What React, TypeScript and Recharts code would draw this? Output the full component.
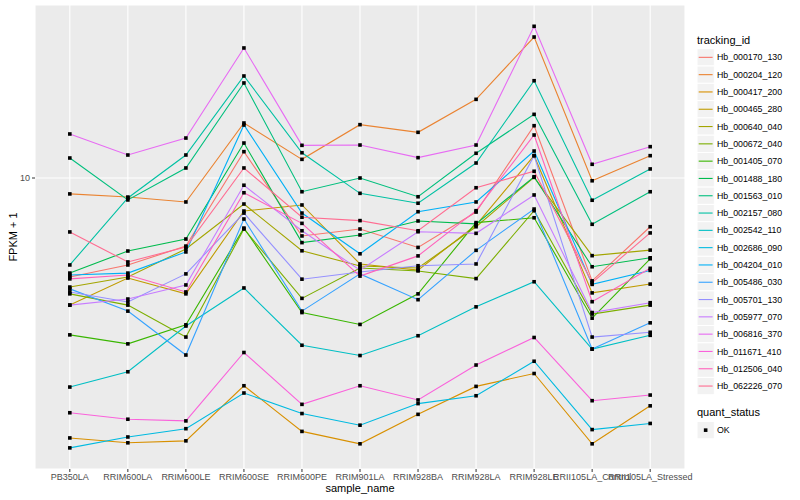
import { CartesianGrid, Line, LineChart, XAxis, YAxis } from "recharts";

const categories = [
  "PB350LA",
  "RRIM600LA",
  "RRIM600LE",
  "RRIM600SE",
  "RRIM600PE",
  "RRIM901LA",
  "RRIM928BA",
  "RRIM928LA",
  "RRIM928LE",
  "RRII105LA_Control",
  "RRII105LA_Stressed",
];

const trackingIds = [
  "Hb_000170_130",
  "Hb_000204_120",
  "Hb_000417_200",
  "Hb_000465_280",
  "Hb_000640_040",
  "Hb_000672_040",
  "Hb_001405_070",
  "Hb_001488_180",
  "Hb_001563_010",
  "Hb_002157_080",
  "Hb_002542_110",
  "Hb_002686_090",
  "Hb_004204_010",
  "Hb_005486_030",
  "Hb_005701_130",
  "Hb_005977_070",
  "Hb_006816_370",
  "Hb_011671_410",
  "Hb_012506_040",
  "Hb_062226_070",
];

const palette = [
  "#F8766D", "#EA8331", "#D89000", "#C09B00", "#A3A500",
  "#7CAE00", "#39B600", "#00BB4E", "#00BF7D", "#00C1A3",
  "#00BFC4", "#00BAE0", "#00B0F6", "#35A2FF", "#9590FF",
  "#C77CFF", "#E76BF3", "#FA62DB", "#FF62BC", "#FF6C91",
];

// FPKM + 1, one value per sample
const hb000170_130 = [4.68, 5.13, 5.93, 12.24, 6.41, 6.76, 5.87, 7.7, 14.94, 4.54, 6.88];
const hb000204_120 = [8.85, 8.64, 8.32, 15.25, 11.54, 15.06, 14.2, 18.29, 29.51, 9.79, 11.87];
const hb000417_200 = [1.36, 1.31, 1.33, 2.03, 1.43, 1.3, 1.63, 2.02, 2.23, 1.3, 1.74];
const hb000465_280 = [3.77, 4.64, 4.11, 7.76, 8.13, 5.17, 4.93, 6.97, 11.87, 4.14, 4.43];
const hb000640_040 = [4.33, 4.68, 5.8, 8.19, 5.72, 5.09, 5.01, 6.88, 10.05, 5.51, 5.75];
const hb000672_040 = [4.11, 3.77, 2.95, 6.76, 3.97, 5.01, 4.9, 4.62, 7.78, 3.52, 3.77];
const hb001405_070 = [3.0, 2.8, 3.24, 6.81, 3.56, 3.25, 4.11, 7.1, 7.37, 3.41, 5.38];
const hb001488_180 = [4.82, 5.71, 6.26, 13.08, 6.09, 6.46, 7.19, 7.03, 10.1, 5.06, 5.42];
const hb001563_010 = [11.66, 8.45, 10.8, 20.74, 9.0, 10.0, 8.66, 12.09, 16.3, 7.01, 9.0];
const hb002157_080 = [5.13, 8.58, 11.93, 21.88, 12.14, 8.89, 8.24, 11.22, 21.1, 8.43, 10.72];
const hb002542_110 = [2.01, 2.26, 3.21, 4.3, 2.77, 2.56, 2.98, 3.72, 4.51, 2.69, 2.99];
const hb002686_090 = [1.26, 1.37, 1.46, 1.92, 1.64, 1.5, 1.77, 1.88, 2.45, 1.45, 1.52];
const hb004204_010 = [4.75, 4.82, 5.67, 15.02, 7.64, 5.59, 7.72, 8.32, 12.3, 4.42, 4.92];
const hb005486_030 = [4.27, 3.6, 2.57, 7.3, 3.6, 4.79, 3.93, 5.74, 7.88, 2.69, 3.29];
const hb005701_130 = [4.17, 3.86, 4.79, 7.64, 4.6, 4.86, 5.1, 5.17, 11.87, 2.95, 3.06];
const hb005977_070 = [3.77, 3.95, 4.4, 9.46, 6.67, 4.93, 6.62, 6.54, 8.78, 3.56, 3.84];
const hb006816_370 = [14.02, 11.93, 13.59, 27.13, 12.85, 12.88, 11.69, 12.88, 32.04, 11.11, 12.72];
const hb011671_410 = [1.65, 1.57, 1.55, 2.62, 1.76, 2.03, 1.82, 2.38, 2.94, 1.81, 1.89];
const hb012506_040 = [4.61, 4.75, 4.17, 8.93, 7.06, 4.71, 5.5, 7.78, 13.91, 3.87, 5.0];
const hb062226_070 = [6.61, 5.25, 5.89, 10.8, 7.4, 7.21, 6.67, 9.28, 10.53, 4.48, 6.56];

const seriesValues = [
  hb000170_130, hb000204_120, hb000417_200, hb000465_280, hb000640_040,
  hb000672_040, hb001405_070, hb001488_180, hb001563_010, hb002157_080,
  hb002542_110, hb002686_090, hb004204_010, hb005486_030, hb005701_130,
  hb005977_070, hb006816_370, hb011671_410, hb012506_040, hb062226_070,
];

const yTicks = [10];
const statusLabels = ["OK"];

const rows = categories.map((name, i) => {
  const row: Record<string, number | string> = { x: i, name };
  trackingIds.forEach((id, k) => {
    row[id] = seriesValues[k][i];
  });
  return row;
});

const FONT = '"Liberation Sans", Arial, Helvetica, sans-serif';

function SquareDot(props: any) {
  const { cx, cy, index, dataKey } = props;
  if (cx == null || cy == null) return <g key={`${dataKey}-${index}`} />;
  return (
    <rect
      key={`${dataKey}-${index}`}
      x={cx - 1.8}
      y={cy - 1.8}
      width={3.6}
      height={3.6}
      fill="#000000"
    />
  );
}

function LegendPanel() {
  const keySize = 17.3;
  const firstTop = 48.7;
  const statusTitleY = 415.5;
  const statusTop = 421.5;
  return (
    <svg
      width={110}
      height={500}
      style={{ position: "absolute", left: 690, top: 0, fontFamily: FONT }}
    >
      <text x={7} y={44} fontSize={11} fill="#000">
        tracking_id
      </text>
      {trackingIds.map((id, k) => {
        const top = firstTop + k * keySize;
        return (
          <g key={id}>
            <rect x={7} y={top} width={keySize} height={keySize} fill="#F2F2F2" stroke="#FFFFFF" />
            <line
              x1={8.7}
              x2={7 + keySize - 1.7}
              y1={top + keySize / 2}
              y2={top + keySize / 2}
              stroke={palette[k]}
              strokeWidth={1.1}
            />
            <text x={27} y={top + keySize / 2 + 3.1} fontSize={8.8} fill="#000">
              {id}
            </text>
          </g>
        );
      })}
      <text x={7} y={statusTitleY} fontSize={11} fill="#000">
        quant_status
      </text>
      {statusLabels.map((s, k) => {
        const top = statusTop + k * keySize;
        return (
          <g key={s}>
            <rect x={7} y={top} width={keySize} height={keySize} fill="#F2F2F2" stroke="#FFFFFF" />
            <rect x={7 + keySize / 2 - 1.8} y={top + keySize / 2 - 1.8} width={3.6} height={3.6} fill="#000" />
            <text x={27} y={top + keySize / 2 + 3.1} fontSize={8.8} fill="#000">
              {s}
            </text>
          </g>
        );
      })}
    </svg>
  );
}

export default function App() {
  return (
    <div style={{ position: "absolute", left: 0, top: 0, width: 800, height: 500, background: "#FFFFFF", fontFamily: FONT }}>
      <LineChart
        width={800}
        height={500}
        data={rows}
        margin={{ top: 5, right: 115, bottom: 0, left: 0 }}
      >
        <CartesianGrid fill="#EBEBEB" fillOpacity={1} stroke="#FFFFFF" strokeWidth={1.1} />
        <XAxis
          dataKey="x"
          type="number"
          domain={[-0.6, 10.6]}
          ticks={categories.map((_, i) => i)}
          tickFormatter={(v: number) => categories[v] ?? ""}
          interval={0}
          height={31}
          axisLine={false}
          tickLine={{ stroke: "#333333" }}
          tickSize={3}
          tickMargin={1.5}
          tick={{ fill: "#4D4D4D", fontSize: 9, fontFamily: FONT }}
          allowDataOverflow
        />
        <YAxis
          scale="log"
          type="number"
          domain={[1.0715, 37.73]}
          ticks={yTicks}
          width={35}
          axisLine={false}
          tickLine={{ stroke: "#333333" }}
          tickSize={3}
          tickMargin={2}
          tick={{ fill: "#4D4D4D", fontSize: 9, fontFamily: FONT }}
          allowDataOverflow
        />
        {trackingIds.map((id, k) => (
          <Line
            key={id}
            type="linear"
            dataKey={id}
            stroke={palette[k]}
            strokeWidth={1.1}
            dot={false}
            activeDot={false}
            isAnimationActive={false}
          />
        ))}
        {trackingIds.map((id) => (
          <Line
            key={`${id}-pts`}
            type="linear"
            dataKey={id}
            stroke="none"
            strokeWidth={0}
            dot={SquareDot}
            activeDot={false}
            legendType="none"
            isAnimationActive={false}
          />
        ))}
      </LineChart>
      <div
        style={{
          position: "absolute",
          left: 300,
          width: 120,
          top: 481.5,
          textAlign: "center",
          fontSize: 11,
          color: "#000",
          lineHeight: "13px",
        }}
      >
        sample_name
      </div>
      <div
        style={{
          position: "absolute",
          left: 13,
          top: 237,
          transform: "translate(-50%, -50%) rotate(-90deg)",
          fontSize: 11,
          color: "#000",
          whiteSpace: "nowrap",
          lineHeight: "13px",
        }}
      >
        FPKM + 1
      </div>
      <LegendPanel />
    </div>
  );
}
